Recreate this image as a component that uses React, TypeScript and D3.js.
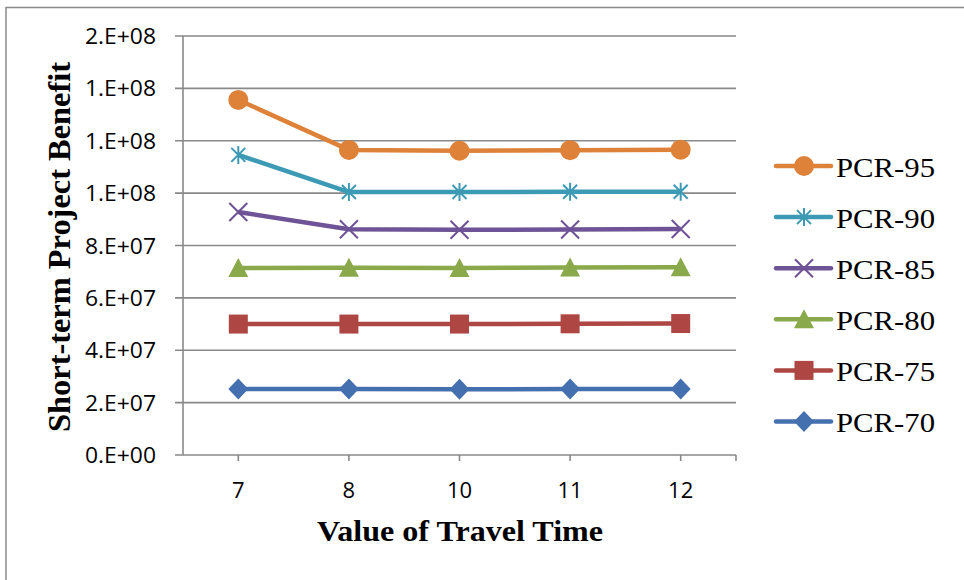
import React from "react";
import * as d3 from "d3";

const categories = ["7", "8", "10", "11", "12"];
const seriesNames = ["PCR-95", "PCR-90", "PCR-85", "PCR-80", "PCR-75", "PCR-70"];
const pcr95 = [1.356e8, 1.165e8, 1.162e8, 1.164e8, 1.166e8];
const pcr90 = [1.146e8, 1.004e8, 1.004e8, 1.005e8, 1.005e8];
const pcr85 = [9.28e7, 8.62e7, 8.6e7, 8.61e7, 8.63e7];
const pcr80 = [7.14e7, 7.15e7, 7.14e7, 7.16e7, 7.17e7];
const pcr75 = [5.0e7, 5.0e7, 5.0e7, 5.01e7, 5.02e7];
const pcr70 = [2.52e7, 2.52e7, 2.51e7, 2.52e7, 2.52e7];
const yTickValues = [0, 2e7, 4e7, 6e7, 8e7, 1e8, 1.2e8, 1.4e8, 1.6e8];
const yTickLabels = ["0.E+00", "2.E+07", "4.E+07", "6.E+07", "8.E+07", "1.E+08", "1.E+08", "1.E+08", "2.E+08"];

const seriesValues = [pcr95, pcr90, pcr85, pcr80, pcr75, pcr70];
const colors = ["#DE8139", "#3D9AB4", "#6E5396", "#89A94B", "#AE4643", "#4470AF"];
const markers = ["circle", "star", "x", "triangle", "square", "diamond"];

const W = 964, H = 580;
const left = 183, right = 736, top = 36, bottom = 455;

function Marker({ type, cx, cy, color }: { type: string; cx: number; cy: number; color: string }) {
  switch (type) {
    case "circle":
      return <circle cx={cx} cy={cy} r={10} fill={color} />;
    case "star": {
      const s = 9, d = 7;
      return (
        <path
          d={`M${cx},${cy - s}L${cx},${cy + s}M${cx - d},${cy - d}L${cx + d},${cy + d}M${cx - d},${cy + d}L${cx + d},${cy - d}`}
          stroke={color} strokeWidth={2} fill="none" />
      );
    }
    case "x": {
      const d = 9;
      return (
        <path d={`M${cx - d},${cy - d}L${cx + d},${cy + d}M${cx - d},${cy + d}L${cx + d},${cy - d}`}
          stroke={color} strokeWidth={2} fill="none" />
      );
    }
    case "triangle":
      return <path d={`M${cx},${cy - 10}L${cx + 10},${cy + 9}L${cx - 10},${cy + 9}Z`} fill={color} />;
    case "square":
      return <rect x={cx - 9.5} y={cy - 9.5} width={19} height={19} fill={color} />;
    case "diamond":
      return <path d={`M${cx},${cy - 10.5}L${cx + 10},${cy}L${cx},${cy + 10.5}L${cx - 10},${cy}Z`} fill={color} />;
  }
  return null;
}

export default function App() {
  const x = d3.scaleBand<string>().domain(categories).range([left, right]).padding(0);
  const bw = x.bandwidth();
  const cx = (c: string) => (x(c) as number) + bw / 2;
  const y = d3.scaleLinear().domain([0, 1.6e8]).range([bottom, top]);
  const line = d3.line<number>().x((_, i) => cx(categories[i])).y((v) => y(v));

  const legendX0 = 776, legendX1 = 831, legendY0 = 166, legendStep = 51.1;

  return (
    <svg width={W} height={H} style={{ position: "absolute", left: 0, top: 0, background: "#fff" }}>
      <rect x={0} y={0} width={W} height={H} fill="#fff" />
      <rect x={6} y={7.5} width={W + 20} height={H + 20} fill="none" stroke="#8a8a8a" strokeWidth={1.5} />
      {yTickValues.map((v, i) => (
        <g key={i}>
          <line x1={175} x2={right} y1={y(v)} y2={y(v)} stroke="#898989" strokeWidth={1.6} />
          <text x={156} y={y(v) + 8} textAnchor="end" fontFamily="'Open Sans', sans-serif" fontSize={22}
            textLength={71} lengthAdjust="spacingAndGlyphs" fill="#000">{yTickLabels[i]}</text>
        </g>
      ))}
      <line x1={left} x2={left} y1={top} y2={bottom} stroke="#898989" strokeWidth={1.6} />
      {categories.map((c) => (
        <g key={c}>
          <line x1={cx(c)} x2={cx(c)} y1={bottom} y2={bottom + 6} stroke="#898989" strokeWidth={1.6} />
          <text x={cx(c)} y={498} textAnchor="middle" fontFamily="'Open Sans', sans-serif" fontSize={22} fill="#000">{c}</text>
        </g>
      ))}
      <line x1={right} x2={right} y1={bottom} y2={bottom + 6} stroke="#898989" strokeWidth={1.6} />
      {seriesValues.map((vals, si) => (
        <g key={si}>
          <path d={line(vals) as string} fill="none" stroke={colors[si]} strokeWidth={4.5} strokeLinejoin="round" />
          {vals.map((v, i) => (
            <Marker key={i} type={markers[si]} cx={cx(categories[i])} cy={y(v)} color={colors[si]} />
          ))}
        </g>
      ))}
      <text x={460} y={541} textAnchor="middle" fontFamily="'Liberation Serif', 'Times New Roman', serif" fontWeight="bold"
        fontSize={30} textLength={286} lengthAdjust="spacingAndGlyphs" fill="#000">Value of Travel Time</text>
      <text transform={`translate(70,247) rotate(-90)`} textAnchor="middle" fontFamily="'Liberation Serif', 'Times New Roman', serif"
        fontWeight="bold" fontSize={31} textLength={370} lengthAdjust="spacingAndGlyphs" fill="#000">Short-term Project  Benefit</text>
      {seriesNames.map((name, i) => {
        const ly = legendY0 + i * legendStep;
        return (
          <g key={name}>
            <line x1={legendX0} x2={legendX1} y1={ly} y2={ly} stroke={colors[i]} strokeWidth={4.5} strokeLinecap="round" />
            <Marker type={markers[i]} cx={(legendX0 + legendX1) / 2 + 0.5} cy={ly} color={colors[i]} />
            <text x={836} y={ly + 10.5} fontFamily="'Liberation Serif', 'Times New Roman', serif" fontSize={27.5}
              textLength={99} lengthAdjust="spacingAndGlyphs" fill="#000">{name}</text>
          </g>
        );
      })}
    </svg>
  );
}
